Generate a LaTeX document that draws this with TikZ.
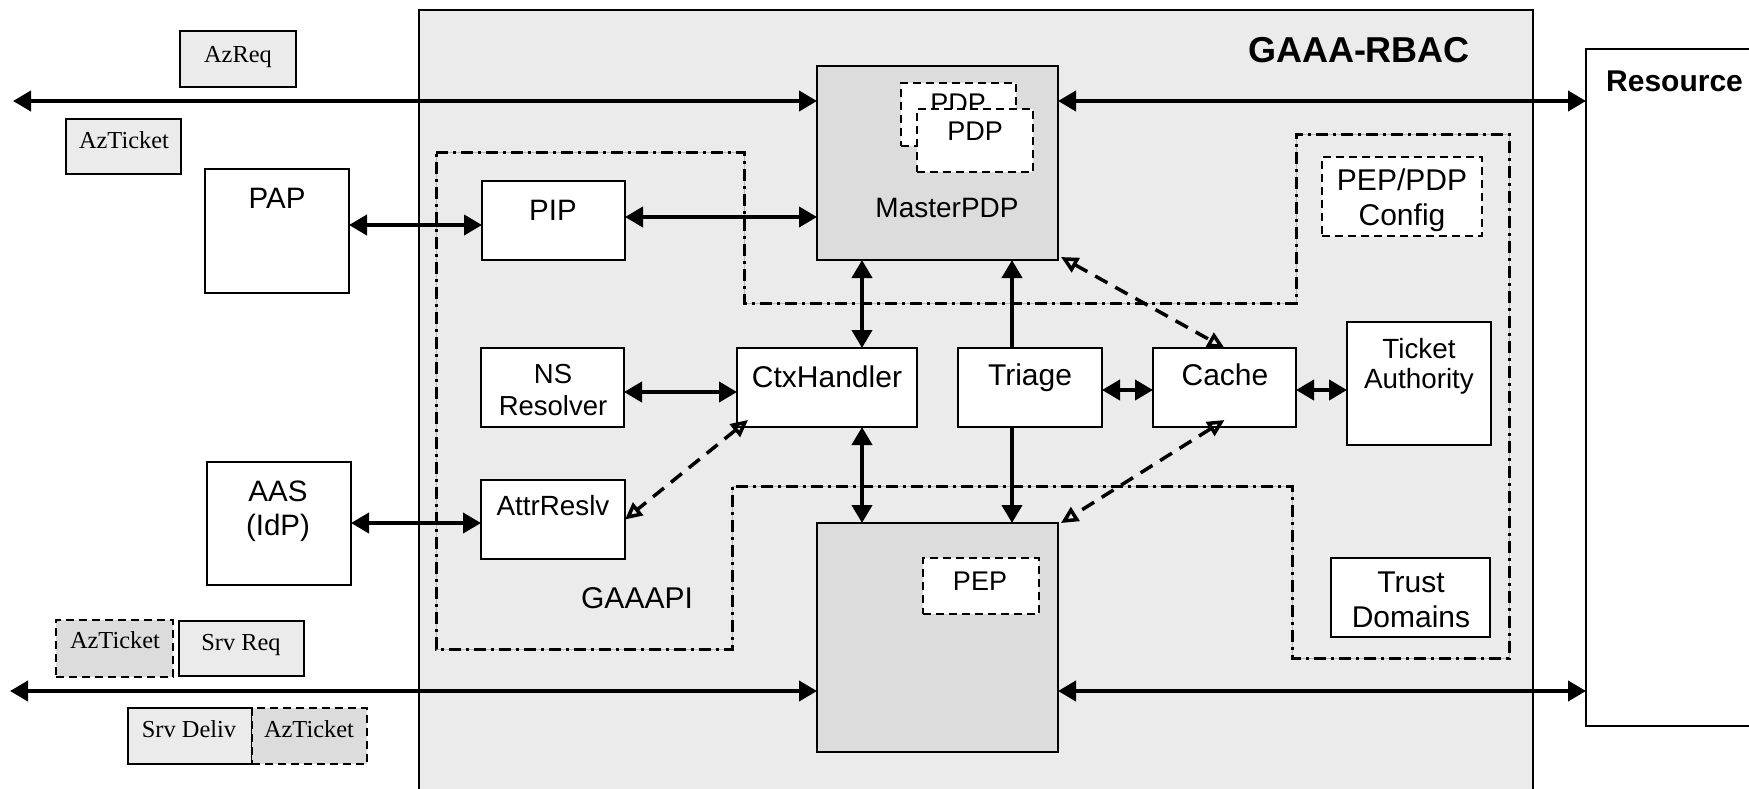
\documentclass[tikz,border=0pt]{standalone}
\usepackage{fontspec}
\setmainfont{Liberation Sans}
\newfontfamily\tms{Liberation Serif}
\usetikzlibrary{arrows.meta}
\definecolor{bgA}{HTML}{EBEBEB}
\definecolor{bgB}{HTML}{DCDCDC}
\newcommand\myfs[1]{\fontsize{#1}{#1}\selectfont}
\begin{document}
\begin{tikzpicture}[x=1pt,y=-1pt,
  box/.style={draw, line width=2pt, fill=white, anchor=north west, inner sep=0pt, outer sep=0pt},
  gbox/.style={box, fill=bgB},
  lbox/.style={box, fill=bgA},
  dbox/.style={box, line width=2.5pt, dash pattern=on 8pt off 5pt},
  t/.style={inner sep=0pt, anchor=base},
  arr/.style={line width=4pt, {Triangle[length=18pt,width=20pt]}-{Triangle[length=18pt,width=20pt]}},
  arrend/.style={line width=4pt, -{Triangle[length=18pt,width=20pt]}},
  darr/.style={line width=3.5pt, dash pattern=on 14pt off 9pt,
     {Triangle[open,length=17pt,width=16pt,line width=3.5pt]}-{Triangle[open,length=17pt,width=16pt,line width=3.5pt]}}
]
\clip (0,0) rectangle (1749,788);
\fill[white] (0,0) rectangle (1749,788);

% outer boxes
\node[lbox, minimum width=1114pt, minimum height=800pt] (gaaa) at (419,10) {};
\node[box, minimum width=300pt, minimum height=677pt] (res) at (1586,49) {};
\node[t, font=\myfs{36}\bfseries] (gaaaT) at (1359,62) {GAAA-RBAC};
\node[t, anchor=base west, font=\myfs{30}\bfseries] (resT) at (1606,91) {Resource};

% GAAAPI region
\draw[line width=3pt, dash pattern=on 12pt off 5pt on 3pt off 5pt,
      preaction={draw, solid, gray!55, line width=1pt}]
  (436,152) -- (744,152) -- (744,303) -- (1296,303) -- (1296,134) -- (1509,134)
  -- (1509,658) -- (1292,658) -- (1292,486) -- (732,486) -- (732,649) -- (436,649) -- cycle;
\node[t, font=\myfs{30}] (gaaapiT) at (637,608) {GAAAPI};

% message labels
\node[lbox, minimum width=116pt, minimum height=56pt] (azreq) at (180,31) {};
\node[t, font=\tms\myfs{24.4}] (azreqT) at (238,62) {AzReq};
\node[lbox, minimum width=115pt, minimum height=55pt] (azt1) at (66,119) {};
\node[t, font=\tms\myfs{24.4}] (azt1T) at (124,148) {AzTicket};
\node[gbox, dash pattern=on 8pt off 5pt, line width=2.5pt, minimum width=117pt, minimum height=57pt] (azt2) at (56,620) {};
\node[t, font=\tms\myfs{24.4}] (azt2T) at (115,648) {AzTicket};
\node[lbox, minimum width=125pt, minimum height=55pt] (srq) at (179,621) {};
\node[t, font=\tms\myfs{24.4}] (srqT) at (241,650) {Srv Req};
\node[lbox, minimum width=124pt, minimum height=56pt] (sdl) at (128,708) {};
\node[t, font=\tms\myfs{24.4}] (sdlT) at (189,737) {Srv Deliv};
\node[gbox, dash pattern=on 8pt off 5pt, line width=2.5pt, minimum width=115pt, minimum height=56pt] (azt3) at (252,708) {};
\node[t, font=\tms\myfs{24.4}] (azt3T) at (309,737) {AzTicket};

% external boxes
\node[box, minimum width=144pt, minimum height=124pt] (pap) at (205,169) {};
\node[t, font=\myfs{29.5}] (papT) at (277,208) {PAP};
\node[box, minimum width=144pt, minimum height=123pt] (aas) at (207,462) {};
\node[t, font=\myfs{29.5}] (aasT1) at (278,501) {AAS};
\node[t, font=\myfs{29.5}] (aasT2) at (278,535) {(IdP)};

% inner boxes
\node[box, minimum width=143pt, minimum height=79pt] (pip) at (482,181) {};
\node[t, font=\myfs{29.5}] (pipT) at (553,220) {PIP};
\node[box, minimum width=143pt, minimum height=79pt] (ns) at (481,348) {};
\node[t, font=\myfs{27.5}] (nsT1) at (553,383) {NS};
\node[t, font=\myfs{27.5}] (nsT2) at (553,415) {Resolver};
\node[box, minimum width=144pt, minimum height=79pt] (attr) at (481,480) {};
\node[t, font=\myfs{27.8}] (attrT) at (553,515) {AttrReslv};
\node[box, minimum width=180pt, minimum height=79pt] (ctx) at (737,348) {};
\node[t, font=\myfs{30}] (ctxT) at (827,387) {CtxHandler};
\node[box, minimum width=144pt, minimum height=79pt] (tri) at (958,348) {};
\node[t, font=\myfs{30}] (triT) at (1030,385) {Triage};
\node[box, minimum width=143pt, minimum height=79pt] (cache) at (1153,348) {};
\node[t, font=\myfs{30}] (cacheT) at (1225,385) {Cache};
\node[box, minimum width=144pt, minimum height=123pt] (ta) at (1347,322) {};
\node[t, font=\myfs{27.8}] (taT1) at (1419,358) {Ticket};
\node[t, font=\myfs{27.8}] (taT2) at (1419,388) {Authority};
\node[dbox, minimum width=160pt, minimum height=79pt] (cfg) at (1322,157) {};
\node[t, font=\myfs{30}] (cfgT1) at (1402,190) {PEP/PDP};
\node[t, font=\myfs{30}] (cfgT2) at (1402,225) {Config};
\node[box, minimum width=159pt, minimum height=79pt] (trust) at (1331,558) {};
\node[t, font=\myfs{30}] (trustT1) at (1411,592) {Trust};
\node[t, font=\myfs{30}] (trustT2) at (1411,627) {Domains};

% MasterPDP
\node[gbox, minimum width=241pt, minimum height=194pt] (mpdp) at (817,66) {};
\node[t, font=\myfs{28}] (mpdpT) at (947,217) {MasterPDP};
\node[dbox, minimum width=115pt, minimum height=63pt] (pdpB) at (901,83) {};
\node[t, font=\myfs{27}] (pdpBT) at (958,112) {PDP};
\node[dbox, minimum width=116pt, minimum height=63pt] (pdpF) at (917,109) {};
\node[t, font=\myfs{27}] (pdpFT) at (975,140) {PDP};

% PEP box
\node[gbox, minimum width=241pt, minimum height=229pt] (pep) at (817,523) {};
\node[dbox, minimum width=116pt, minimum height=56pt] (pepI) at (923,558) {};
\node[t, font=\myfs{27}] (pepIT) at (980,590) {PEP};

% helper coordinates
\coordinate (tl) at (13,101);
\coordinate (bl) at (10,691);
\coordinate (yA) at (0,225);
\coordinate (yB) at (0,217);
\coordinate (yC) at (0,392);
\coordinate (yD) at (0,523);
\coordinate (yE) at (0,390);
\coordinate (xF) at (862,0);
\coordinate (xG) at (1012,0);

% connectors
\draw[arr] (tl) -- (tl -| mpdp.west);
\draw[arr] (tl -| mpdp.east) -- (tl -| res.west);
\draw[arr] (bl) -- (bl -| pep.west);
\draw[arr] (bl -| pep.east) -- (bl -| res.west);
\draw[arr] (yA -| pap.east) -- (yA -| pip.west);
\draw[arr] (yB -| pip.east) -- (yB -| mpdp.west);
\draw[arr] (yC -| ns.east) -- (yC -| ctx.west);
\draw[arr] (yD -| aas.east) -- (yD -| attr.west);
\draw[arr] (yE -| tri.east) -- (yE -| cache.west);
\draw[arr] (yE -| cache.east) -- (yE -| ta.west);
\draw[arr] (xF |- mpdp.south) -- (xF |- ctx.north);
\draw[arr] (xF |- ctx.south) -- (xF |- pep.north);
\draw[arrend] (xG |- tri.north) -- (xG |- mpdp.south);
\draw[arrend] (xG |- tri.south) -- (xG |- pep.north);
\draw[darr] ([shift={(3pt,3pt)}]mpdp.south east) -- (cache.north);
\draw[darr] ([yshift=7pt]cache.south) -- ([shift={(3pt,0pt)}]pep.north east);
\draw[darr] ([shift={(11pt,7pt)}]ctx.south west) -- (attr.east);
\end{tikzpicture}
\end{document}
